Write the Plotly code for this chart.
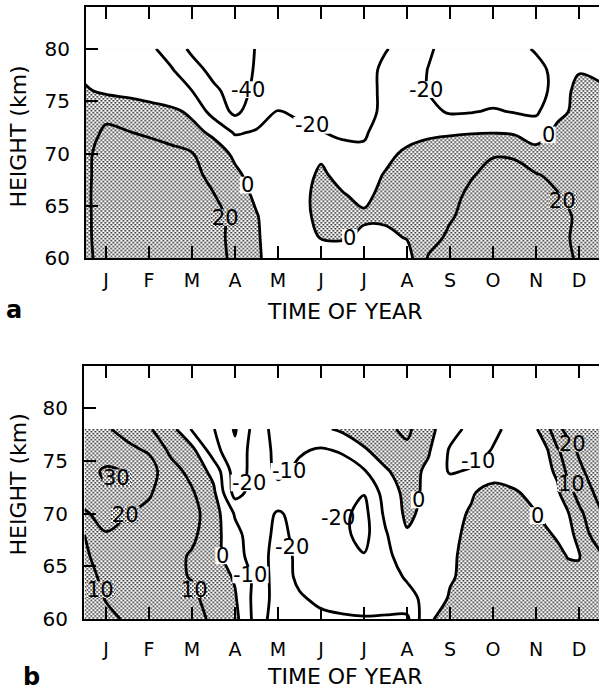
import base64
import plotly.graph_objects as go

W, H = 599, 700

# ---- axes data -------------------------------------------------------------
month_labels = ["J", "F", "M", "A", "M", "J", "J", "A", "S", "O", "N", "D"]
month_ticks = [i + 0.5 for i in range(12)]
height_ticks = [60, 65, 70, 75, 80]

# grid columns in months (month 0 = 1 January)
grid_months_a = [i * 0.5 for i in range(25)]
grid_months_b = [i * 0.5 for i in range(22)] + [10.75, 11.0, 11.25, 11.5, 11.75, 12.0]

# ---- panel a: zonal wind (m/s), one list per height -------------------------
heights_a = [60, 62, 64, 66, 68, 70, 72, 74, 76, 78, 80]
wind_a_60 = [12, 32, 38, 40, 38, 34, 27, 16, 3, -10, -16, -16, -12, -10, -8, -8, 22, 30, 36, 38, 36, 32, 26, 18, 12]
wind_a_62 = [13, 34, 40, 41, 39, 34, 26, 15, 2, -10, -8, 1, 2, -3, -4, 1, 12, 24, 32, 36, 35, 30, 24, 17, 12]
wind_a_64 = [13, 35, 41, 42, 40, 35, 27, 14, 1, -10, -5, 4, 4, 2, 3, 6, 11, 18, 27, 32, 32, 29, 24, 18, 11]
wind_a_66 = [13, 36, 42, 43, 41, 34, 21, 8, -3, -10, -4, 4, 1, -3, 4, 8, 12, 16, 23, 29, 30, 27, 21, 14, 10]
wind_a_68 = [12, 36, 40, 38, 33, 26, 14, 3, -6, -10, -5, 2, -4, -6, 1, 6, 10, 14, 19, 24, 25, 21, 16, 11, 8]
wind_a_70 = [12, 34, 33, 30, 26, 21, 8, -3, -8, -11, -8, -2, -12, -17, -4, 3, 7, 11, 16, 19, 18, 6, 11, 8, 6]
wind_a_72 = [10, 24, 21, 17, 12, 5, -3, -22, -18, -15, -16, -19, -24, -22, -12, -6, -3, -2, -1, -0.5, -2, -8, 4, 6, 5]
wind_a_74 = [4, 14, 10, 7, 4, -3, -28, -44, -30, -19, -23, -27, -31, -26, -16, -10, -15, -22, -21, -18, -21, -23, -4, 4, 3]
wind_a_76 = [2, -3, -5, -8, -13, -20, -36, -48, -36, -30, -30, -32, -33, -28, -15, -10, -21, -27, -30, -30, -30, -27, -14, 8, 2]
wind_a_78 = [-4, -6, -8, -12, -18, -32, -46, -50, -38, -34, -33, -33, -32, -27, -16, -12, -20.5, -28, -32, -33, -32, -26, -14, -2, -3]
wind_a_80 = [-8, -10, -12, -16, -28, -44, -50, -50, -39, -35, -34, -34, -33, -28, -21, -14, -18, -26, -30, -30, -26, -18, -12, -8, -8]

# ---- panel b ----------------------------------------------------------------
heights_b = [60, 62, 64, 66, 68, 70, 72, 74, 76, 78]
wind_b_60 = [4, 8, 11, 13, 13, 12, 9, 3, -14, -26, -24, -22, -21, -20.5, -21, -22, -1, 3, 5, 6, 7, 7, 6.5, 6, 5.5, 5, 4.5, 4]
wind_b_62 = [5, 10.5, 13, 14, 13, 12, 6, 1, -14, -24, -21, -18, -17, -17, -16, -13, -7, 1, 4, 6, 7, 7, 6.5, 6, 5, 4, 4, 4]
wind_b_64 = [7, 12, 14, 14, 12, 9.5, 5, -1, -13, -25, -18, -17, -16, -16, -14, -9, -5, -1, 3, 6, 7, 6, 5, 4, 3, 2, 4, 6]
wind_b_66 = [9, 13, 15, 15, 13, 9, 4, -6, -15, -24, -18, -16, -17, -19.5, -12, -6, -3, -1.5, 3, 6, 6, 4, 3, 2, -0.5, -0.5, 5, 9]
wind_b_68 = [10, 19.5, 18, 17, 15, 12, 4, -7, -16, -22, -18, -17, -18, -23, -11, -1, -4, -2, 2, 5, 4, 2, 1, -1, -2, 2, 10, 14]
wind_b_70 = [19, 23, 20.2, 18, 16, 13, 5, -11, -15, -21, -17, -16, -18, -23, -8, 2, -3, -3, 1, 5, 4, 0.3, -2, -4, -0.5, 8, 13, 19]
wind_b_72 = [24, 28, 26, 21, 15, 11, 2, -24, -15, -13, -14, -15, -17, -19.5, -6, 3, -2, -3, -1, 4, 1, -3, -4, -1.5, 7, 13, 18, 24]
wind_b_74 = [25, 32, 29, 24, 14, 7, -3, -25, -16, -8, -12, -15, -14, -11, -1, 4, -2, -11, -9, -5, -5, -4, -2, 1.5, 13, 17, 23, 26]
wind_b_76 = [24, 23, 22, 19, 8, 3, -16, -28, -14, -8, -9, -11, -9, -1, 4, 8, 1, -11, -14, -9.5, -6, -6, -1, 9, 15, 22, 25, 27]
wind_b_78 = [24, 21, 17, 11, 4, -11, -19.5, -31, -15, -6, -4, -2, 2, 5, 8, 12, 3, -6, -13, -12, -7, -1, 7, 17, 24, 26, 27, 28]

wind_a = [wind_a_60, wind_a_62, wind_a_64, wind_a_66, wind_a_68, wind_a_70,
          wind_a_72, wind_a_74, wind_a_76, wind_a_78, wind_a_80]
wind_b = [wind_b_60, wind_b_62, wind_b_64, wind_b_66, wind_b_68, wind_b_70,
          wind_b_72, wind_b_74, wind_b_76, wind_b_78]

# contour labels: text, month, height, backing ("white", "stipple" or None)
labels_a = [
    ("-40", 3.80, 76.1, "white"),
    ("-20", 5.28, 72.7, "white"),
    ("-20", 7.95, 76.1, "white"),
    ("0", 3.79, 67.0, "white"),
    ("20", 3.27, 63.9, "stipple"),
    ("0", 6.17, 62.0, "white"),
    ("0", 10.78, 71.8, "white"),
    ("20", 11.12, 65.5, "stipple"),
]
labels_b = [
    ("30", 0.75, 73.4, "stipple"),
    ("20", 0.95, 69.9, "stipple"),
    ("10", 0.38, 62.8, "stipple"),
    ("10", 2.56, 62.8, "stipple"),
    ("0", 3.22, 66.0, "white"),
    ("-10", 3.86, 64.2, "white"),
    ("-20", 3.82, 72.9, "white"),
    ("-10", 4.75, 74.0, "white"),
    ("-20", 4.82, 66.8, "white"),
    ("-20", 5.90, 69.6, None),
    ("0", 7.77, 71.3, "white"),
    ("-10", 9.15, 75.0, "white"),
    ("0", 10.53, 69.8, "white"),
    ("20", 11.36, 76.6, "stipple"),
    ("10", 11.32, 72.8, "stipple"),
]

# ---- pixel geometry of the two frames ---------------------------------------
PX_PER_MONTH = 43.0
frame_a = dict(left=86, right=599, top=7, bottom=263)
frame_b = dict(left=84, right=599, top=372, bottom=630)
JAN_TICK_PX = 106

FONT = "DejaVu Sans"
LABEL_SIZE = 21
month_font = dict(family=FONT, size=19, color="black")
height_font = dict(family=FONT, size=20, color="black")


def x_range(frame):
    start = 0.5 - (JAN_TICK_PX - frame["left"]) / PX_PER_MONTH
    end = 0.5 + (frame["right"] - JAN_TICK_PX) / PX_PER_MONTH
    return [start, end]


def px_per_km(frame):
    return (frame["bottom"] - frame["top"]) / 24.0


def stipple_uri(w, h, opaque=False):
    bg = f'<rect width="{w}" height="{h}" fill="white"/>' if opaque else ""
    svg = (
        f'<svg xmlns="http://www.w3.org/2000/svg" width="{w}" height="{h}" '
        f'viewBox="0 0 {w} {h}"><defs>'
        '<pattern id="p" width="4" height="4" patternUnits="userSpaceOnUse">'
        '<rect x="0" y="0" width="1.6" height="1.6" fill="#111"/>'
        '<rect x="2" y="2" width="1.6" height="1.6" fill="#111"/>'
        '</pattern></defs>' + bg +
        f'<rect width="{w}" height="{h}" fill="url(#p)"/></svg>'
    )
    return "data:image/svg+xml;base64," + base64.b64encode(svg.encode()).decode()


def text_width(text):
    # DejaVu Sans advance widths (em): digits 0.636, hyphen 0.361
    return sum(0.361 if ch == "-" else 0.636 for ch in text) * LABEL_SIZE


fig = go.Figure()


def add_panel(idx, months, heights, z, levels, frame, labels):
    xa = "x" if idx == 1 else f"x{idx}"
    ya = "y" if idx == 1 else f"y{idx}"
    # constraint fill shades the excluded side: paint z < 0 white so the
    # stipple underneath only shows where the wind is positive
    fig.add_trace(go.Contour(
        x=months, y=heights, z=z, xaxis=xa, yaxis=ya,
        contours=dict(type="constraint", operation=">", value=0),
        fillcolor="white", line=dict(width=0, smoothing=1),
        showscale=False, hoverinfo="skip",
    ))
    fig.add_trace(go.Contour(
        x=months, y=heights, z=z, xaxis=xa, yaxis=ya,
        contours=dict(coloring="none", showlabels=False, **levels),
        line=dict(color="black", width=2.8, smoothing=1),
        showscale=False, hoverinfo="skip",
    ))
    kmpx = px_per_km(frame)
    w = int(round((months[-1] - months[0]) * PX_PER_MONTH))
    h = int(round((heights[-1] - heights[0]) * kmpx))
    fig.add_layout_image(dict(
        source=stipple_uri(w, h), xref=xa, yref=ya,
        x=months[0], y=heights[-1],
        sizex=months[-1] - months[0], sizey=heights[-1] - heights[0],
        xanchor="left", yanchor="top", sizing="stretch", layer="below",
    ))

    # labels sit in a gap cut out of their isoline
    for text, m, km, backing in labels:
        wpx = text_width(text) + 2
        hpx = 17
        dx = wpx / 2 / PX_PER_MONTH
        dy = hpx / 2 / kmpx
        if backing == "white":
            fig.add_shape(type="rect", xref=xa, yref=ya,
                          x0=m - dx, x1=m + dx, y0=km - dy, y1=km + dy,
                          fillcolor="white", line=dict(width=0), layer="above")
        elif backing == "stipple":
            fig.add_layout_image(dict(
                source=stipple_uri(int(round(wpx)), hpx, opaque=True),
                xref=xa, yref=ya, x=m - dx, y=km + dy,
                sizex=2 * dx, sizey=2 * dy, xanchor="left", yanchor="top",
                sizing="stretch", layer="above",
            ))
        fig.add_annotation(
            text=text, x=m, y=km, xref=xa, yref=ya, showarrow=False,
            xanchor="center", yanchor="middle", borderpad=0,
            font=dict(family=FONT, size=LABEL_SIZE, color="black"),
        )


add_panel(1, grid_months_a, heights_a, wind_a,
          dict(start=-40, end=20, size=20), frame_a, labels_a)
add_panel(2, grid_months_b, heights_b, wind_b,
          dict(start=-30, end=30, size=10), frame_b, labels_b)


def xaxis_cfg(frame, anchor, standoff):
    return dict(
        domain=[frame["left"] / W, frame["right"] / W], anchor=anchor,
        range=x_range(frame), tickvals=month_ticks, ticktext=month_labels,
        ticks="inside", ticklen=12, tickwidth=2, tickcolor="black",
        showline=True, linewidth=2, linecolor="black", mirror="ticks",
        showgrid=False, zeroline=False, tickfont=month_font,
        ticklabelstandoff=standoff,
    )


def yaxis_cfg(frame, anchor):
    return dict(
        domain=[1 - frame["bottom"] / H, 1 - frame["top"] / H], anchor=anchor,
        range=[60, 84], tickvals=height_ticks,
        ticks="inside", ticklen=12, tickwidth=2, tickcolor="black",
        showline=True, linewidth=2, linecolor="black",
        showgrid=False, zeroline=False, tickfont=height_font,
        ticklabelstandoff=10,
    )


def right_ticks(frame, overlay, anchor):
    return dict(
        domain=[1 - frame["bottom"] / H, 1 - frame["top"] / H],
        overlaying=overlay, anchor=anchor, side="right",
        range=[60, 84], tickvals=height_ticks, showticklabels=False,
        ticks="inside", ticklen=12, tickwidth=2, tickcolor="black",
        showline=False, showgrid=False, zeroline=False,
    )


fig.update_layout(
    width=W, height=H, margin=dict(l=0, r=0, t=0, b=0),
    paper_bgcolor="white", plot_bgcolor="white", showlegend=False,
    xaxis=xaxis_cfg(frame_a, "y", 4),
    yaxis=yaxis_cfg(frame_a, "x"),
    xaxis2=xaxis_cfg(frame_b, "y2", 12),
    yaxis2=yaxis_cfg(frame_b, "x2"),
    yaxis3=right_ticks(frame_a, "y", "x"),
    yaxis4=right_ticks(frame_b, "y2", "x2"),
)


def note(text, px, py, size, angle=0):
    fig.add_annotation(text=text, x=px / W, y=1 - py / H, xref="paper",
                       yref="paper", xanchor="center", yanchor="middle",
                       showarrow=False, textangle=angle,
                       font=dict(family=FONT, size=size, color="black"))


note("HEIGHT (km)", 19, 139, 22, -90)
note("HEIGHT (km)", 19, 493, 22, -90)
note("TIME OF YEAR", 344, 317, 22)
note("TIME OF YEAR", 344, 688, 22)
note("<b>a</b>", 14, 315, 24)
note("<b>b</b>", 31, 689, 24)

fig.write_html("out.html")
